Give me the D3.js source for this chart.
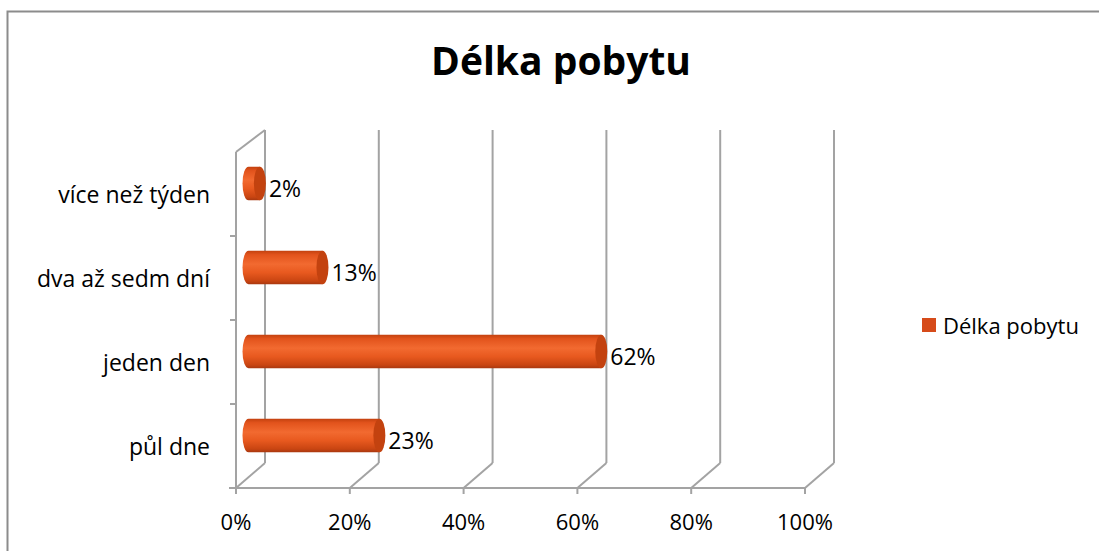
<!DOCTYPE html>
<html><head><meta charset="utf-8">
<script src="https://cdn.jsdelivr.net/npm/d3@7/dist/d3.min.js"></script>
<style>body{margin:0;background:#fff}svg{display:block}</style>
</head><body>
<svg id="c" width="1099" height="551"></svg>
<script>
const title = "Délka pobytu";
const categories = ["půl dne", "jeden den", "dva až sedm dní", "více než týden"];
const values = [0.23, 0.62, 0.13, 0.02];
const valueLabels = ["23%", "62%", "13%", "2%"];
const ticks = [0, 0.2, 0.4, 0.6, 0.8, 1.0];
const seriesName = "Délka pobytu";

const svg = d3.select("#c");
const font = "'Open Sans', 'Noto Sans', sans-serif";
const grey = "#a3a3a3";
const depthX = 29, depthY = -25;

// outer border
svg.append("path").attr("d", "M7.5,600 L7.5,11.5 L1200,11.5")
  .attr("fill", "none").attr("stroke", "#8c8c8c").attr("stroke-width", 2);

svg.append("text").attr("x", 561).attr("y", 75).attr("text-anchor", "middle")
  .attr("font-family", font).attr("font-weight", "bold").attr("font-size", 39)
  .attr("fill", "#000").text(title);

const x = d3.scaleLinear().domain([0, 1]).range([236, 805]);
const y = d3.scaleBand().domain(categories).range([488, 152]).paddingInner(0.6).paddingOuter(0.3);
const yAxisScale = d3.scaleBand().domain(categories).range([488, 152]);

const g = svg.append("g");
// back wall gridlines
g.selectAll(".grid").data(ticks).join("line")
  .attr("x1", d => x(d) + depthX).attr("x2", d => x(d) + depthX)
  .attr("y1", 488 + depthY).attr("y2", 130)
  .attr("stroke", grey).attr("stroke-width", 2);
// floor diagonals
g.selectAll(".diag").data(ticks).join("line")
  .attr("x1", d => x(d)).attr("y1", 488)
  .attr("x2", d => x(d) + depthX).attr("y2", 488 + depthY)
  .attr("stroke", grey).attr("stroke-width", 2);
// left wall top diagonal
g.append("line").attr("x1", 236).attr("y1", 152).attr("x2", 236 + depthX).attr("y2", 130)
  .attr("stroke", grey).attr("stroke-width", 2);
// left axis
g.append("line").attr("x1", 236).attr("y1", 152).attr("x2", 236).attr("y2", 488)
  .attr("stroke", grey).attr("stroke-width", 2);
const yTicks = categories.map(c => yAxisScale(c)).concat([152]);
g.selectAll(".yt").data(yTicks).join("line")
  .attr("x1", 230).attr("x2", 236).attr("y1", d => d + yAxisScale.bandwidth()).attr("y2", d => d + yAxisScale.bandwidth())
  .attr("stroke", grey).attr("stroke-width", 2);
// bottom axis
g.append("line").attr("x1", 229).attr("y1", 488).attr("x2", 806).attr("y2", 488)
  .attr("stroke", grey).attr("stroke-width", 2);
g.selectAll(".xt").data(ticks).join("line")
  .attr("x1", d => x(d)).attr("x2", d => x(d)).attr("y1", 488).attr("y2", 494)
  .attr("stroke", grey).attr("stroke-width", 2);
g.selectAll(".xl").data(ticks).join("text")
  .attr("x", d => x(d)).attr("y", 530).attr("text-anchor", "middle")
  .attr("font-family", font).attr("font-size", 22).attr("fill", "#000")
  .text(d => Math.round(d * 100) + "%");
// category labels
g.selectAll(".cl").data(categories).join("text")
  .attr("x", 210).attr("y", d => yAxisScale(d) + yAxisScale.bandwidth() / 2 + 9)
  .attr("text-anchor", "end").attr("font-family", font).attr("font-size", 23).attr("fill", "#000")
  .text(d => d);

// gradient
const defs = svg.append("defs");
const grad = defs.append("linearGradient").attr("id", "cyl").attr("x1", 0).attr("y1", 0).attr("x2", 0).attr("y2", 1);
[[0, "#c2410f"], [0.12, "#e2531c"], [0.4, "#f26a30"], [0.65, "#e8591f"], [0.9, "#c94512"], [1, "#a83810"]]
  .forEach(([o, c]) => grad.append("stop").attr("offset", o).attr("stop-color", c));

const mid = v => x(v) + depthX / 2 - 2;
const midY = c => y(c) + depthY / 2 + 2;
const rx = 6;
const bars = g.selectAll(".bar").data(categories).join("g");
bars.each(function (c, i) {
  const sel = d3.select(this);
  const h = y.bandwidth();
  const top = midY(c), x0 = mid(0), x1 = mid(values[i]), ry = h / 2;
  sel.append("path")
    .attr("d", `M${x0},${top} L${x1},${top} L${x1},${top + h} L${x0},${top + h} A${rx},${ry} 0 0 1 ${x0},${top} Z`)
    .attr("fill", "url(#cyl)");
  sel.append("ellipse").attr("cx", x1).attr("cy", top + ry).attr("rx", rx).attr("ry", ry)
    .attr("fill", "#c3420f");
  sel.append("text").attr("x", x1 + rx + 3).attr("y", top + ry + 13)
    .attr("font-family", font).attr("font-size", 23).attr("fill", "#000").text(valueLabels[i]);
});

// legend
svg.append("rect").attr("x", 922).attr("y", 318).attr("width", 14).attr("height", 14).attr("fill", "#d64b1a");
svg.append("text").attr("x", 943).attr("y", 334).attr("font-family", font).attr("font-size", 22)
  .attr("fill", "#000").text(seriesName);
</script>
</body></html>
